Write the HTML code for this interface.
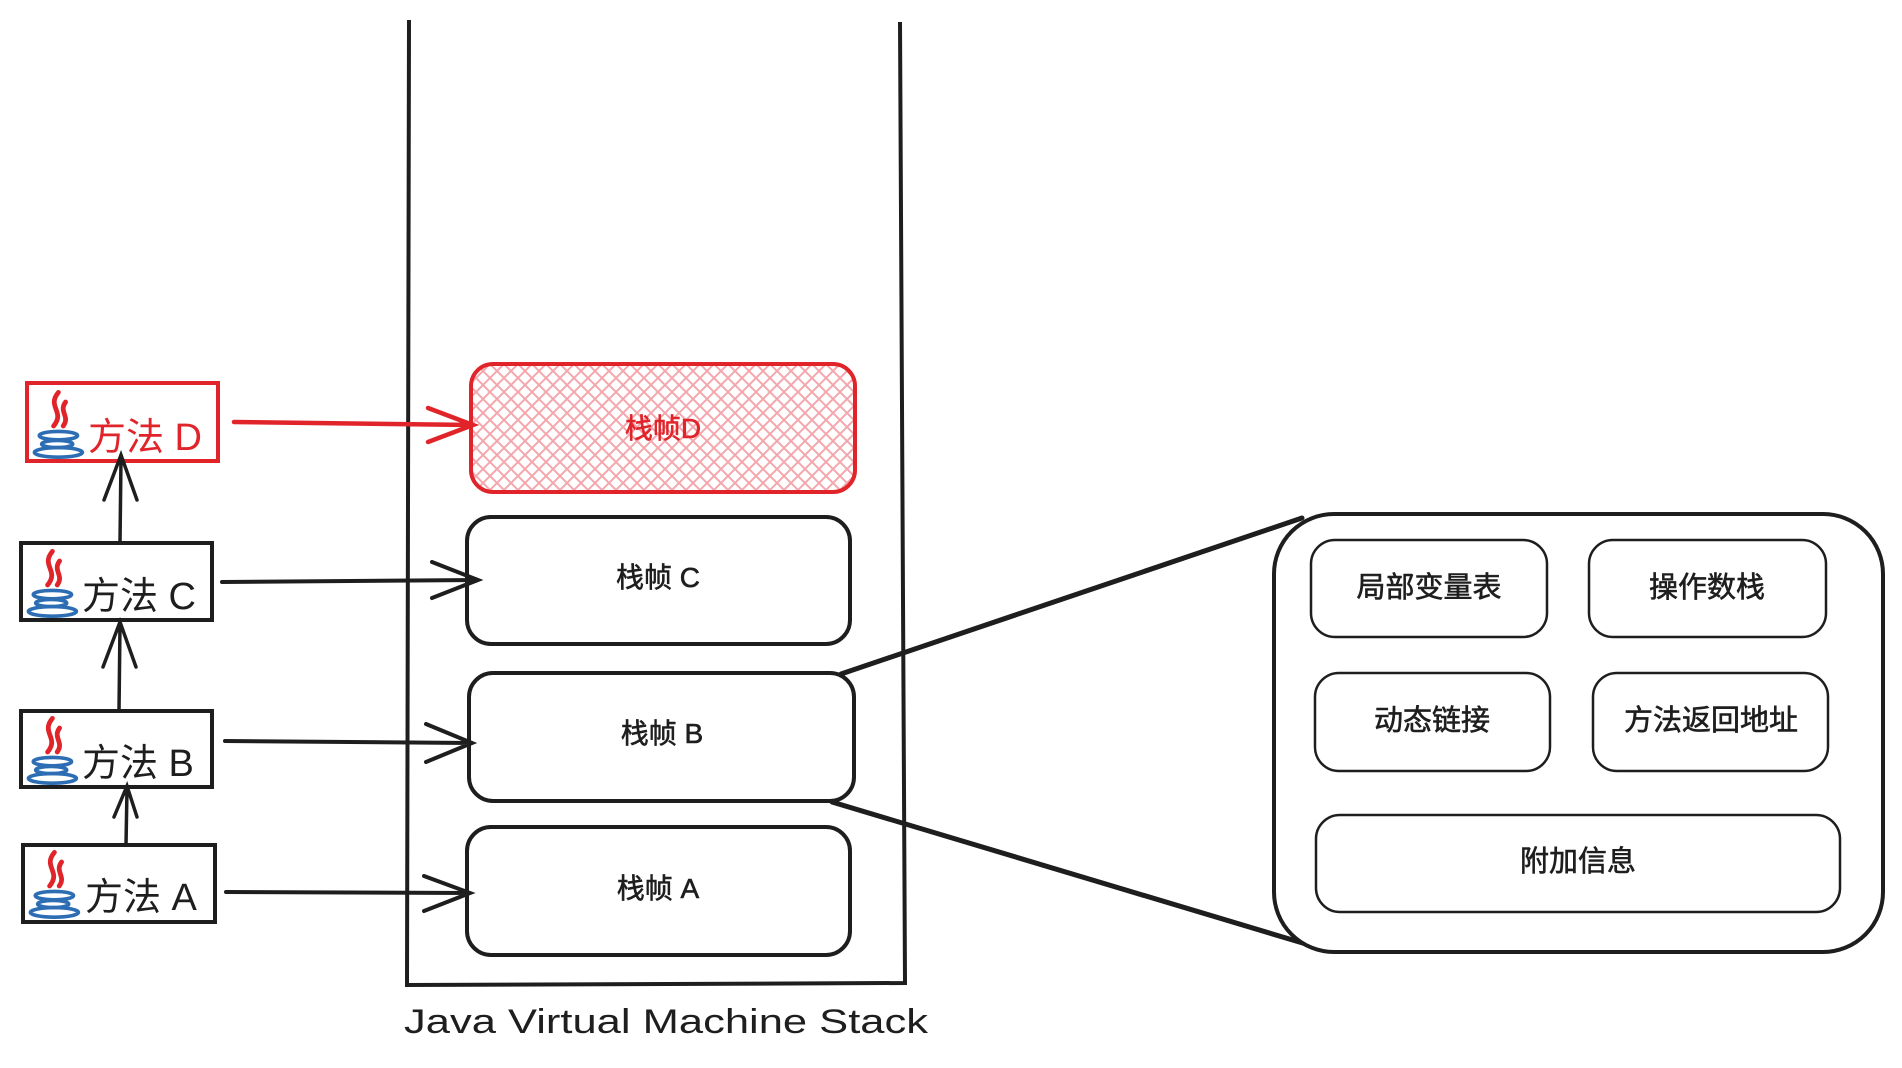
<!DOCTYPE html>
<html><head><meta charset="utf-8">
<style>
html,body{margin:0;padding:0;background:#fff;}
svg{display:block;}
text{font-family:"Liberation Sans","Noto Sans CJK SC",sans-serif;}
</style></head>
<body>
<svg width="1902" height="1068" viewBox="0 0 1902 1068" xmlns="http://www.w3.org/2000/svg">
<defs>
<pattern id="hatch" width="14" height="14" patternUnits="userSpaceOnUse">
<path d="M0 0L14 14M14 0L0 14" stroke="#f4a6ad" stroke-width="2"/>
</pattern>
<g id="java">
<path d="M22 2 C12 14 28 18 18 30 M28 10 C22 18 32 22 26 30" stroke="#e0242a" stroke-width="4" fill="none" stroke-linecap="round"/>
<ellipse cx="22" cy="38" rx="16" ry="3.5" fill="none" stroke="#2d6db4" stroke-width="3"/>
<ellipse cx="21" cy="45" rx="13" ry="3" fill="none" stroke="#2d6db4" stroke-width="3"/>
<ellipse cx="22" cy="52" rx="20" ry="4" fill="none" stroke="#2d6db4" stroke-width="3"/>
</g>
</defs>

<path d="M409 20 L407 985 L905 983 L900 22" fill="none" stroke="#1e1e1e" stroke-width="4"/>
<text x="404" y="1033" font-size="34" fill="#1e1e1e" textLength="524" lengthAdjust="spacingAndGlyphs" font-family="Liberation Sans, sans-serif">Java Virtual Machine Stack</text>

<rect x="471" y="364" width="384" height="128" rx="22" fill="url(#hatch)" stroke="#e0242a" stroke-width="4"/>
<text x="663" y="438" font-size="28" fill="#e0242a" text-anchor="middle" stroke="#e0242a" stroke-width="0.6">栈帧D</text>
<rect x="467" y="517" width="383" height="127" rx="24" fill="none" stroke="#1e1e1e" stroke-width="4"/>
<text x="658" y="587" font-size="28" fill="#1e1e1e" text-anchor="middle" stroke="#1e1e1e" stroke-width="0.6">栈帧 C</text>
<rect x="469" y="673" width="385" height="128" rx="24" fill="none" stroke="#1e1e1e" stroke-width="4"/>
<text x="662" y="743" font-size="28" fill="#1e1e1e" text-anchor="middle" stroke="#1e1e1e" stroke-width="0.6">栈帧 B</text>
<rect x="467" y="827" width="383" height="128" rx="24" fill="none" stroke="#1e1e1e" stroke-width="4"/>
<text x="658" y="898" font-size="28" fill="#1e1e1e" text-anchor="middle" stroke="#1e1e1e" stroke-width="0.6">栈帧 A</text>

<rect x="27" y="383" width="191" height="78" fill="none" stroke="#e0242a" stroke-width="4"/>
<use href="#java" transform="translate(32 390) scale(1.2)"/>
<text x="88" y="450" font-size="38" fill="#e0242a">方法 D</text>
<rect x="21" y="543" width="191" height="77" fill="none" stroke="#1e1e1e" stroke-width="4"/>
<use href="#java" transform="translate(26 549) scale(1.2)"/>
<text x="82" y="609" font-size="38" fill="#1e1e1e">方法 C</text>
<rect x="21" y="711" width="191" height="76" fill="none" stroke="#1e1e1e" stroke-width="4"/>
<use href="#java" transform="translate(26 716) scale(1.2)"/>
<text x="82" y="776" font-size="38" fill="#1e1e1e">方法 B</text>
<rect x="23" y="845" width="192" height="77" fill="none" stroke="#1e1e1e" stroke-width="4"/>
<use href="#java" transform="translate(28 850) scale(1.2)"/>
<text x="85" y="910" font-size="38" fill="#1e1e1e">方法 A</text>

<g stroke="#1e1e1e" stroke-width="3.5" fill="none" stroke-linecap="round">
<path d="M120 543 L121 458 M104 500 L121 455 L137 500"/>
<path d="M119 711 L120 624 M103 667 L120 622 L136 667"/>
<path d="M126 845 L127 789 M114 817 L127 786 L137 817"/>
</g>

<g stroke="#1e1e1e" stroke-width="4" fill="none" stroke-linecap="round">
<path d="M222 582 L478 580 M432 562 L478 580 L432 598"/>
<path d="M225 741 L472 743 M426 724 L472 743 L426 762"/>
<path d="M226 892 L470 893 M424 876 L470 893 L424 911"/>
</g>
<g stroke="#e0242a" stroke-width="4.5" fill="none" stroke-linecap="round">
<path d="M234 422 L473 425 M428 408 L473 425 L428 442"/>
</g>

<g stroke="#1e1e1e" stroke-width="5" fill="none" stroke-linecap="round">
<path d="M841 674 L1302 518"/>
<path d="M832 802 L1306 944"/>
</g>

<rect x="1274" y="514" width="609" height="438" rx="60" fill="#fff" stroke="#1e1e1e" stroke-width="4"/>
<g fill="none" stroke="#1e1e1e" stroke-width="2.5">
<rect x="1311" y="540" width="236" height="97" rx="24"/>
<rect x="1589" y="540" width="237" height="97" rx="24"/>
<rect x="1315" y="673" width="235" height="98" rx="24"/>
<rect x="1593" y="673" width="235" height="98" rx="24"/>
<rect x="1316" y="815" width="524" height="97" rx="24"/>
</g>
<g font-size="29" fill="#1e1e1e" text-anchor="middle" stroke="#1e1e1e" stroke-width="0.6">
<text x="1429" y="597">局部变量表</text>
<text x="1707" y="597">操作数栈</text>
<text x="1432" y="730">动态链接</text>
<text x="1711" y="730">方法返回地址</text>
<text x="1578" y="871">附加信息</text>
</g>
</svg>
</body></html>
